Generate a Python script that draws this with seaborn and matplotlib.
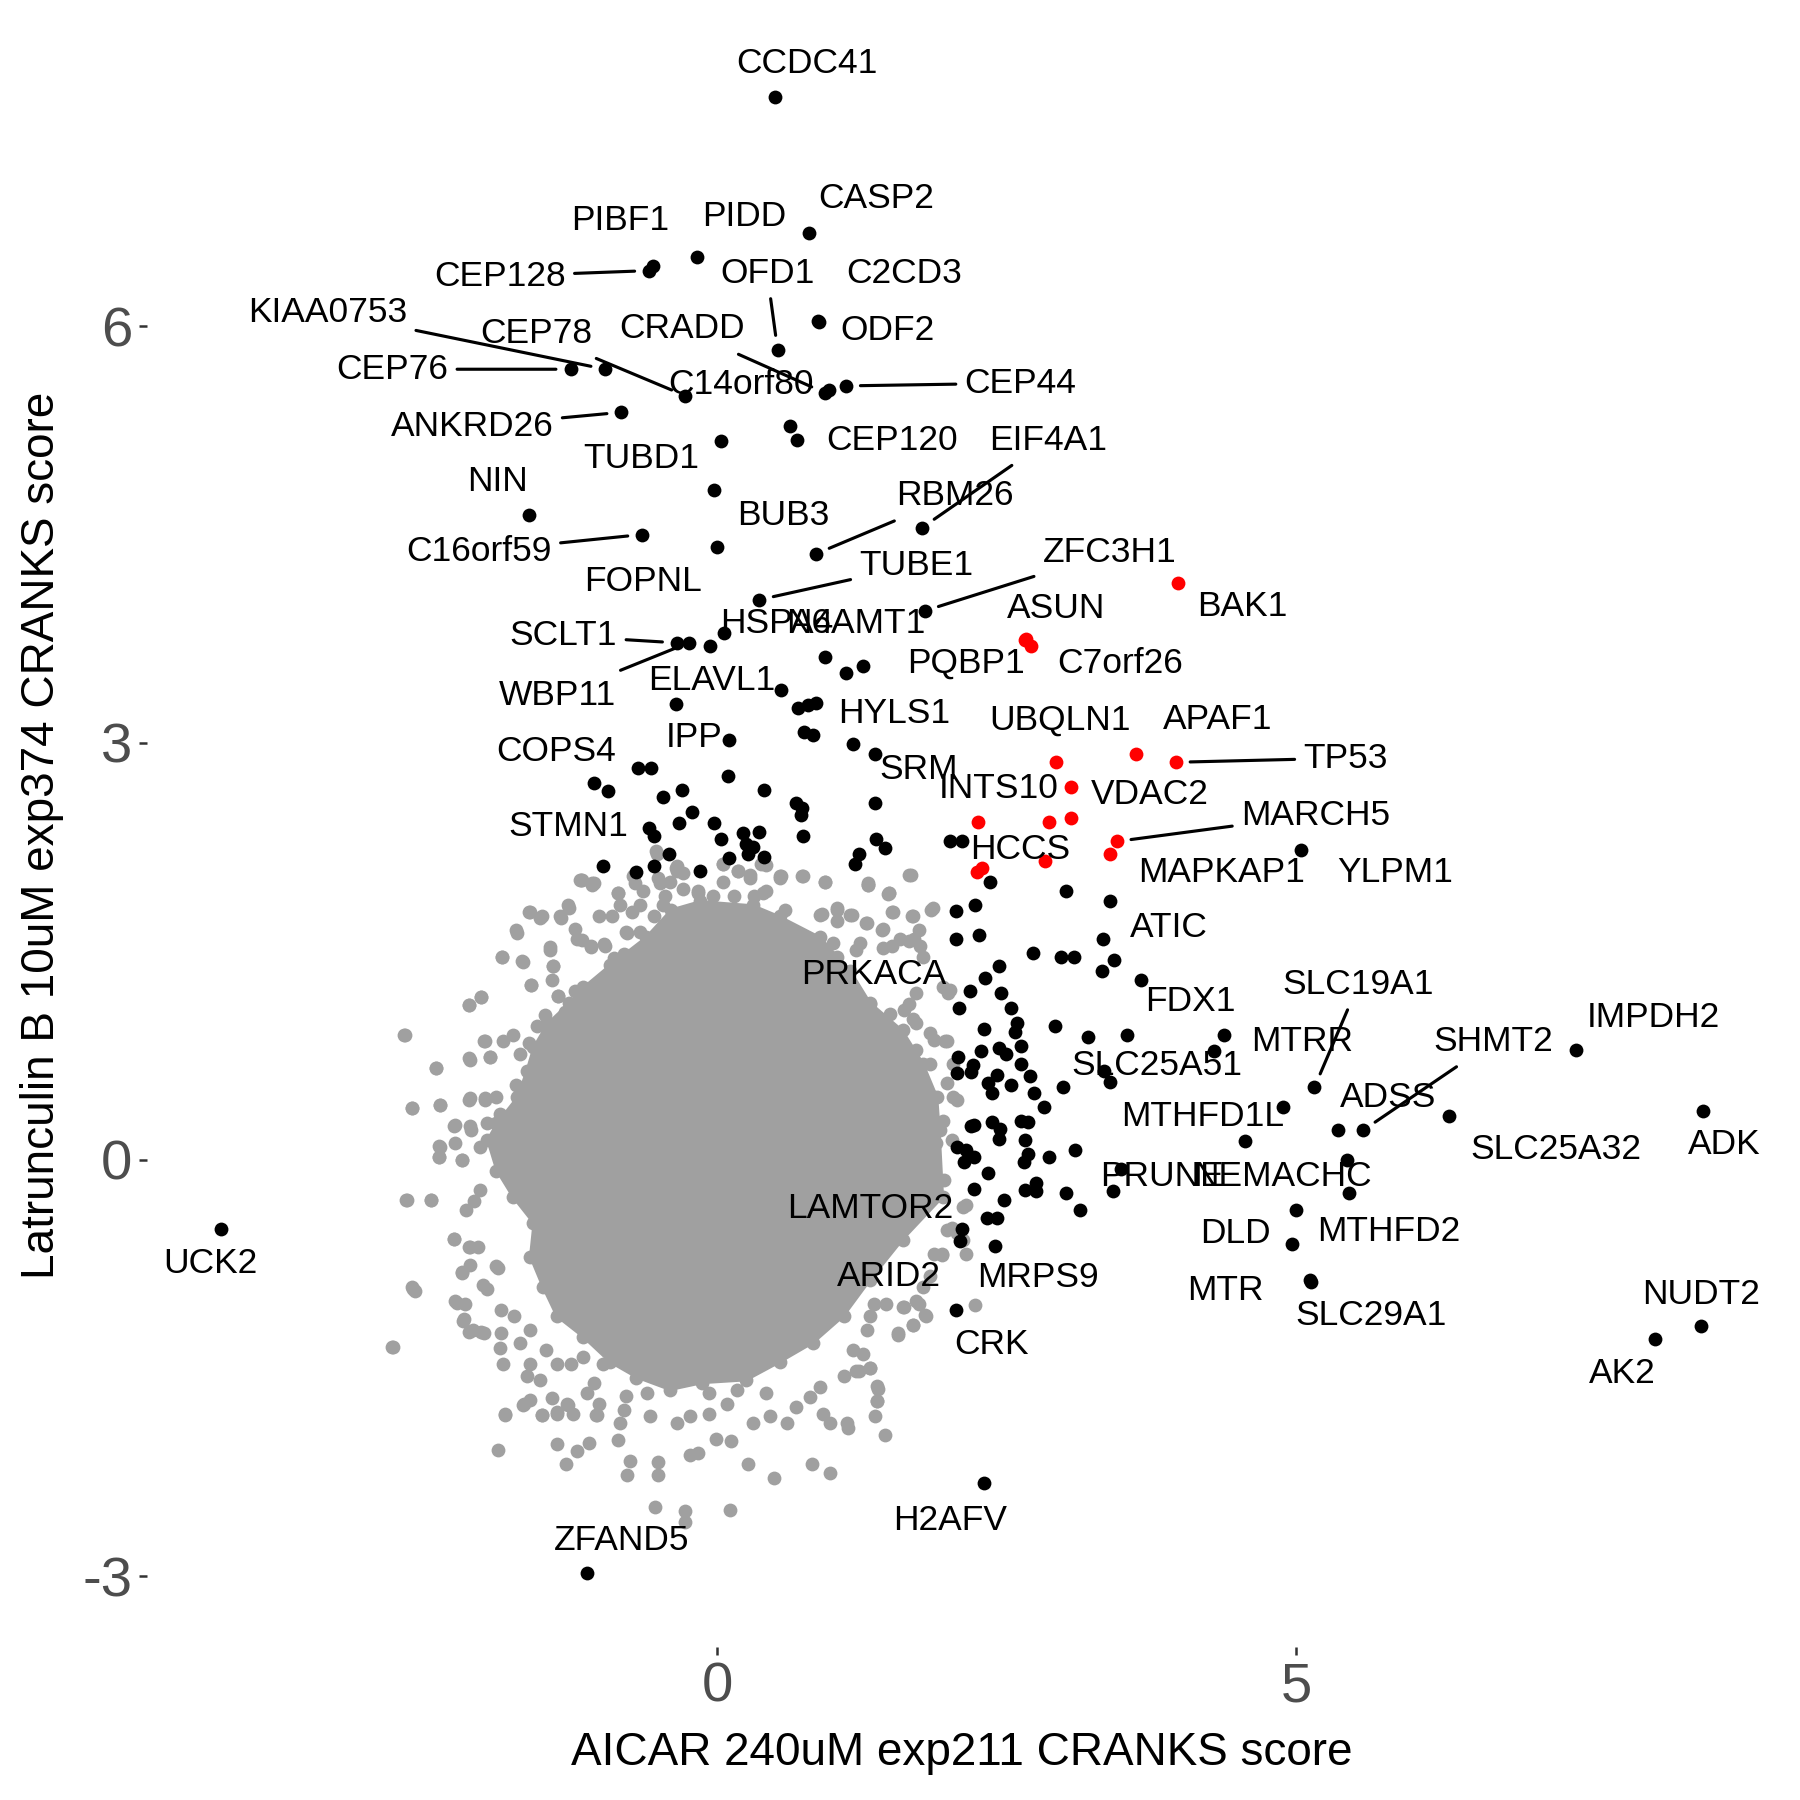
import matplotlib
matplotlib.use('Agg')
import matplotlib.pyplot as plt
import seaborn as sns
import pandas as pd

sns.set_style('white')
plt.rcParams['font.family'] = ['Liberation Sans', 'DejaVu Sans']
plt.rcParams['axes.unicode_minus'] = False
plt.rcParams['text.color'] = 'black'

GRAY = '#A0A0A0'

# outline of the dense grey core of background genes (x, y)
core = [(-0.62, 1.60), (-0.40, 1.80), (-0.15, 1.86), (0.31, 1.83), (0.54, 1.75), (0.89, 1.60),
        (1.15, 1.36), (1.32, 1.13), (1.60, 0.93), (1.78, 0.69), (1.90, 0.45), (1.92, 0.21),
        (1.95, -0.27), (1.60, -0.58), (1.32, -0.87), (1.09, -1.13), (0.83, -1.32), (0.54, -1.46),
        (0.25, -1.59), (-0.13, -1.61), (-0.41, -1.66), (-0.70, -1.57), (-0.93, -1.46),
        (-1.16, -1.28), (-1.39, -1.13), (-1.51, -0.92), (-1.62, -0.70), (-1.59, -0.46),
        (-1.77, -0.27), (-1.91, -0.08), (-1.99, 0.14), (-1.91, 0.26), (-1.73, 0.45),
        (-1.65, 0.64), (-1.59, 0.81), (-1.47, 0.98), (-1.28, 1.13), (-1.16, 1.24), (-0.93, 1.40)]

# background genes scattered away from the core
bg_outer = [(-2.71, 0.90), (-2.43, 0.66), (-2.64, 0.37), (-2.40, 0.39), (-2.15, 0.73), (-2.02, 0.85),
            (-1.97, 0.74), (-2.14, 0.44), (-2.01, 0.44), (-2.28, 0.24), (-2.13, 0.21), (-2.40, 0.09),
            (-2.41, 0.02), (-2.21, 0.00), (-2.68, -0.29), (-2.48, -0.29), (-2.28, -0.57), (-2.14, -0.63),
            (-2.21, -0.81), (-2.64, -0.92), (-2.61, -0.95), (-2.81, -1.35), (-2.25, -1.03), (-2.19, -1.15),
            (-2.15, -1.24), (-2.04, -1.24), (-1.90, -0.78), (-2.03, -0.90), (-1.84, -1.84), (-1.90, -2.09),
            (-1.67, -1.76), (-1.52, -1.84), (-1.39, -2.05), (-1.31, -2.19), (-1.21, -2.10), (-1.11, -2.04),
            (-1.39, -1.82), (-1.29, -1.77), (-1.05, -1.84), (-0.86, -2.02), (-0.78, -2.27), (-0.76, -2.17),
            (-0.54, -2.50), (-0.51, -2.27), (-0.51, -2.18), (-0.28, -2.53), (-0.28, -2.61), (0.11, -2.52),
            (-0.24, -2.13), (-0.17, -2.11), (-0.01, -2.01), (0.12, -2.03), (0.26, -2.19), (0.49, -2.29),
            (0.82, -2.19), (0.97, -2.26), (1.13, -1.93), (1.45, -1.98), (1.38, -1.74), (1.38, -1.63),
            (1.22, -1.52), (1.32, -1.50), (1.56, -1.26), (1.69, -1.19), (1.80, -1.13), (1.72, -1.02),
            (1.60, -1.06), (1.94, -0.68), (2.15, -0.33), (2.15, -0.68), (2.23, -1.05), (2.03, -0.49),
            (1.96, -0.15), (2.03, 0.14), (2.07, 0.43), (1.97, 0.85), (1.84, 0.91), (1.69, 1.01),
            (1.86, 1.81), (1.69, 1.75), (1.51, 1.78), (1.47, 1.91), (1.30, 1.99), (1.67, 2.05),
            (0.93, 2.00), (0.73, 2.04), (0.54, 2.03), (0.39, 1.92), (0.28, 2.03), (0.05, 2.13),
            (-0.17, 1.92), (-0.36, 2.10), (-0.51, 2.03), (-0.71, 1.99), (-0.86, 1.92), (-1.07, 1.99),
            (-1.18, 2.01), (-1.36, 1.75), (-1.29, 1.83), (-1.52, 1.75), (-1.63, 1.78), (-1.74, 1.65),
            (-1.86, 1.46), (-1.69, 1.43), (-1.45, 1.51), (-1.42, 1.39), (-1.61, 1.26), (-1.38, 1.18),
            (-2.04, 1.17), (-2.15, 1.11), (-1.21, 1.59), (-1.09, 1.54), (-0.98, 1.55), (-0.78, 1.63),
            (1.28, 1.70), (1.42, 1.65), (1.51, 1.54), (1.70, 1.59), (1.03, 1.81), (1.15, 1.76),
            (0.89, 1.76), (1.99, 1.20), (1.72, 1.20), (-1.19, 2.01), (-1.08, 1.99), (-0.72, 2.05),
            (-0.52, 2.20), (-0.35, 2.11), (0.18, 2.08), (0.55, 2.04), (1.30, 1.98), (0.38, 2.13),
            (1.48, 1.92)]

# background genes crowding the edge of the core, by quadrant
bg_upper_left = [(-1.17, 2.01), (-1.08, 1.98), (-0.53, 2.22), (-0.86, 1.92), (-0.73, 2.04), (-0.64, 1.93),
                 (-0.50, 1.99), (-1.62, 1.78), (-1.53, 1.74), (-1.35, 1.74), (-1.28, 1.81), (-1.02, 1.75),
                 (-0.91, 1.75), (-0.84, 1.83), (-0.74, 1.78), (-0.67, 1.83), (-0.55, 1.75), (-0.47, 1.83),
                 (-1.23, 1.66), (-1.17, 1.58), (-1.09, 1.53), (-0.97, 1.54), (-0.79, 1.64), (-0.67, 1.64),
                 (-1.73, 1.63), (-1.45, 1.53), (-1.86, 1.46), (-1.68, 1.42), (-1.42, 1.39), (-1.43, 1.29),
                 (-0.89, 1.45), (-0.81, 1.48), (-1.61, 1.26), (-1.38, 1.18), (-1.23, 1.21), (-1.20, 1.14),
                 (-2.04, 1.17), (-2.15, 1.11), (-1.49, 1.04), (-1.32, 1.06), (-1.56, 0.96), (-2.70, 0.90),
                 (-2.01, 0.85), (-1.85, 0.85), (-1.77, 0.90), (-1.71, 0.76), (-1.63, 0.84), (-2.14, 0.72),
                 (-1.97, 0.74), (-2.43, 0.66), (-1.74, 0.54), (-2.15, 0.43), (-2.01, 0.43), (-1.91, 0.45),
                 (-2.64, 0.37), (-2.40, 0.39), (-2.27, 0.25), (-2.14, 0.24), (-1.88, 0.33), (-1.99, 0.26),
                 (-0.41, 2.00), (-0.30, 1.95), (-0.45, 1.90)]
bg_upper_right = [(-0.35, 2.08), (-0.30, 2.06), (0.05, 2.13), (0.18, 2.08), (0.28, 2.05), (0.42, 2.12),
                  (0.05, 2.00), (-0.17, 1.93), (-0.04, 1.90), (0.14, 1.90), (0.32, 1.90), (0.42, 1.93),
                  (0.54, 2.04), (0.74, 2.04), (0.93, 2.00), (0.58, 1.80), (0.90, 1.77), (1.03, 1.80),
                  (1.16, 1.76), (1.03, 1.72), (1.30, 1.98), (1.48, 1.92), (1.66, 2.05), (1.85, 1.80),
                  (1.29, 1.70), (1.43, 1.66), (1.52, 1.78), (1.68, 1.75), (1.74, 1.65), (1.58, 1.59),
                  (1.66, 1.57), (1.00, 1.56), (1.23, 1.56), (1.43, 1.52), (1.75, 1.54), (1.78, 1.46),
                  (1.20, 1.51), (1.03, 1.46), (1.95, 1.24), (2.01, 1.22), (1.66, 1.12), (1.72, 0.98),
                  (1.87, 0.86), (1.98, 0.85), (1.84, 0.69), (1.98, 0.55), (2.04, 0.45), (2.04, 0.69),
                  (1.95, 0.28), (0.89, 1.17), (1.09, 1.12), (1.32, 1.12), (1.49, 1.05), (1.61, 1.08),
                  (1.55, 0.88), (1.72, 0.79), (1.78, 0.55), (1.87, 0.45)]
bg_lower_left = [(-2.41, 0.10), (-2.41, 0.02), (-2.27, 0.12), (-2.21, 0.00), (-2.05, 0.09), (-2.69, -0.29),
                 (-2.48, -0.29), (-2.17, -0.36), (-2.05, -0.22), (-2.10, -0.30), (-2.28, -0.57), (-2.15, -0.63),
                 (-2.07, -0.63), (-1.91, -0.77), (-2.21, -0.82), (-2.14, -0.76), (-2.63, -0.93), (-1.99, -0.93),
                 (-2.27, -1.02), (-2.18, -1.04), (-2.20, -1.16), (-2.11, -1.23), (-2.02, -1.25), (-1.87, -1.08),
                 (-1.87, -1.25), (-1.88, -1.36), (-2.80, -1.35), (-1.76, -1.13), (-1.71, -1.32), (-1.62, -1.23),
                 (-1.85, -1.47), (-1.62, -1.47), (-1.65, -1.56), (-1.53, -1.59), (-1.48, -1.37), (-1.39, -1.47),
                 (-1.84, -1.83), (-1.68, -1.77), (-1.62, -1.73), (-1.52, -1.84), (-1.43, -1.72), (-1.30, -1.76),
                 (-1.25, -1.83), (-1.39, -1.83), (-1.13, -1.68), (-1.07, -1.61), (-1.02, -1.76), (-1.04, -1.84),
                 (-0.81, -1.80), (-0.79, -1.70), (-0.84, -1.90), (-0.61, -1.68), (-0.58, -1.85), (-1.27, -1.47),
                 (-1.16, -1.42), (-0.99, -1.47)]
bg_lower_right = [(1.89, 0.12), (1.84, -0.02), (2.12, -0.34), (1.98, -0.51), (2.12, -0.58), (2.07, -0.53),
                  (1.87, -0.68), (1.94, -0.69), (1.84, -0.84), (1.78, -0.92), (1.46, -1.04), (1.61, -1.06),
                  (1.74, -1.04), (1.79, -1.12), (1.69, -1.19), (1.56, -1.25), (1.32, -1.13), (1.29, -1.23),
                  (1.35, -1.04), (1.17, -1.37), (1.26, -1.40), (1.32, -1.50), (1.20, -1.52), (1.09, -1.56),
                  (1.39, -1.65), (1.38, -1.74), (1.36, -1.85), (0.89, -1.64), (0.80, -1.71), (0.91, -1.83),
                  (0.97, -1.90), (0.68, -1.78), (0.60, -1.90), (0.45, -1.85), (0.31, -1.90), (0.08, -1.76),
                  (-0.07, -1.83), (-0.24, -1.85), (-0.35, -1.90), (1.12, -1.90), (-0.07, -1.68), (0.17, -1.66),
                  (0.42, -1.68)]

# hits without a label
hits_plain = [(0.63, 5.28), (-0.06, 3.70), (1.11, 3.50), (1.26, 3.55), (0.55, 3.38), (0.70, 3.25),
              (0.78, 3.27), (0.75, 3.08), (0.83, 3.06), (1.17, 2.99), (-0.69, 2.82), (-0.57, 2.82),
              (-0.95, 2.65), (0.09, 2.76), (-0.47, 2.61), (-0.31, 2.66), (0.40, 2.66), (0.68, 2.57),
              (0.73, 2.53), (0.72, 2.48), (1.36, 2.57), (-0.22, 2.50), (-0.33, 2.42), (-0.59, 2.39),
              (-0.55, 2.33), (-0.03, 2.42), (0.22, 2.35), (0.36, 2.36), (0.03, 2.31), (0.74, 2.33),
              (0.25, 2.27), (0.31, 2.25), (1.37, 2.31), (1.45, 2.24), (1.22, 2.20), (1.19, 2.13),
              (2.01, 2.29), (2.11, 2.29), (-0.42, 2.20), (0.10, 2.17), (0.26, 2.20), (0.40, 2.18),
              (-0.70, 2.07), (-0.55, 2.11), (-0.15, 2.08), (2.36, 2.00), (3.01, 1.93), (2.06, 1.79),
              (2.23, 1.83), (2.26, 1.62), (2.73, 1.49), (2.97, 1.46), (3.08, 1.46), (3.33, 1.59),
              (3.43, 1.44), (3.32, 1.36), (2.43, 1.39), (2.31, 1.31), (2.18, 1.21), (2.45, 1.20),
              (2.09, 1.09), (2.54, 1.09), (2.59, 0.98), (2.57, 0.92), (2.30, 0.94), (2.92, 0.96),
              (3.20, 0.88), (3.54, 0.90), (4.29, 0.78), (2.08, 0.74), (2.07, 0.62), (2.28, 0.78),
              (2.43, 0.80), (2.49, 0.76), (2.62, 0.82), (2.62, 0.69), (2.21, 0.68), (2.19, 0.63),
              (2.42, 0.61), (2.34, 0.55), (2.37, 0.48), (2.54, 0.54), (2.70, 0.60), (2.74, 0.48),
              (2.99, 0.52), (2.82, 0.38), (3.39, 0.56), (2.19, 0.24), (2.22, 0.25), (2.37, 0.27),
              (2.44, 0.22), (2.43, 0.15), (2.62, 0.28), (2.68, 0.27), (2.66, 0.14), (2.07, 0.09),
              (2.15, 0.07), (2.13, -0.02), (2.22, 0.02), (2.68, 0.04), (2.65, -0.02), (2.87, 0.02),
              (3.09, 0.07), (2.34, -0.10), (2.22, -0.21), (2.66, -0.22), (2.75, -0.17), (2.75, -0.23),
              (3.01, -0.24), (3.13, -0.36), (3.42, -0.23), (4.56, 0.13), (2.48, -0.29), (2.33, -0.42),
              (2.42, -0.42), (5.46, -0.24)]

# labelled hits (gene, x, y)
hits_named = [('CCDC41', 0.50, 7.65), ('CASP2', 0.79, 6.67), ('PIDD', -0.18, 6.50), ('PIBF1', -0.56, 6.43),
              ('CEP128', -0.59, 6.40), ('OFD1', 0.52, 5.83), ('C2CD3', 0.87, 6.04), ('ODF2', 0.88, 6.03),
              ('CRADD', 0.93, 5.52), ('C14orf80', 0.96, 5.54), ('CEP44', 1.11, 5.57),
              ('KIAA0753', -0.97, 5.69), ('CEP76', -1.27, 5.69), ('CEP78', -0.28, 5.50),
              ('ANKRD26', -0.83, 5.38), ('TUBD1', 0.03, 5.17), ('CEP120', 0.69, 5.18),
              ('EIF4A1', 1.77, 4.55), ('RBM26', 0.85, 4.36), ('NIN', -1.63, 4.64), ('C16orf59', -0.65, 4.50),
              ('BUB3', -0.03, 4.82), ('FOPNL', 0.00, 4.41), ('TUBE1', 0.36, 4.03), ('ZFC3H1', 1.79, 3.95),
              ('SCLT1', -0.35, 3.72), ('WBP11', -0.25, 3.72), ('HSPA4', 0.06, 3.79), ('N6AMT1', 0.93, 3.62),
              ('ELAVL1', -0.36, 3.28), ('HYLS1', 0.85, 3.29), ('IPP', 0.10, 3.02), ('COPS4', -1.07, 2.71),
              ('SRM', 1.36, 2.92), ('STMN1', -0.99, 2.11), ('PRKACA', 2.06, 1.59), ('LAMTOR2', 2.11, -0.50),
              ('ARID2', 2.10, -0.59), ('MRPS9', 2.40, -0.62), ('CRK', 2.06, -1.08), ('H2AFV', 2.30, -2.33),
              ('ZFAND5', -1.13, -2.98), ('UCK2', -4.29, -0.50), ('YLPM1', 5.04, 2.23), ('ATIC', 3.39, 1.86),
              ('FDX1', 3.66, 1.29), ('SLC25A51', 3.34, 0.64), ('MTRR', 4.38, 0.90), ('SLC19A1', 5.16, 0.52),
              ('IMPDH2', 7.42, 0.79), ('SHMT2', 5.58, 0.21), ('ADSS', 5.36, 0.21), ('MTHFD1L', 4.89, 0.38),
              ('SLC25A32', 6.32, 0.31), ('ADK', 8.52, 0.35), ('PRUNE', 3.49, -0.07), ('NEMACHC', 5.44, 0.00),
              ('MTHFD2', 5.00, -0.36), ('DLD', 4.97, -0.61), ('MTR', 5.12, -0.87), ('SLC29A1', 5.13, -0.88),
              ('NUDT2', 8.50, -1.20), ('AK2', 8.10, -1.29)]

# apoptosis / p53 pathway genes (red)
red_named = [('BAK1', 3.98, 4.15), ('ASUN', 2.66, 3.74), ('PQBP1', 2.67, 3.75), ('C7orf26', 2.71, 3.70),
             ('UBQLN1', 2.93, 2.86), ('APAF1', 3.62, 2.92), ('TP53', 3.96, 2.86), ('INTS10', 3.06, 2.68),
             ('VDAC2', 3.06, 2.46), ('MARCH5', 3.45, 2.29), ('MAPKAP1', 3.39, 2.20), ('HCCS', 2.83, 2.15)]
red_plain = [(2.25, 2.43), (2.87, 2.43), (2.24, 2.07), (2.29, 2.10)]

# where each label sits, and which ones get a connector segment
label_pos = {
    'CCDC41': (0.77, 7.89), 'CASP2': (1.37, 6.92), 'PIDD': (0.23, 6.79), 'PIBF1': (-0.84, 6.76),
    'CEP128': (-1.88, 6.36), 'OFD1': (0.43, 6.38), 'C2CD3': (1.61, 6.38), 'ODF2': (1.47, 5.97),
    'CRADD': (-0.31, 5.98), 'C14orf80': (0.20, 5.58), 'CEP44': (2.62, 5.59),
    'KIAA0753': (-3.37, 6.10), 'CEP76': (-2.81, 5.69), 'CEP78': (-1.57, 5.95),
    'ANKRD26': (-2.12, 5.28), 'TUBD1': (-0.66, 5.05), 'CEP120': (1.51, 5.18),
    'EIF4A1': (2.86, 5.18), 'RBM26': (2.05, 4.78), 'NIN': (-1.90, 4.88),
    'C16orf59': (-2.06, 4.38), 'BUB3': (0.57, 4.64), 'FOPNL': (-0.64, 4.16),
    'TUBE1': (1.72, 4.28), 'ZFC3H1': (3.39, 4.37), 'SCLT1': (-1.33, 3.77),
    'WBP11': (-1.38, 3.34), 'HSPA4': (0.51, 3.86), 'N6AMT1': (1.20, 3.86),
    'ELAVL1': (-0.05, 3.45), 'HYLS1': (1.53, 3.21), 'IPP': (-0.20, 3.04),
    'COPS4': (-1.39, 2.94), 'SRM': (1.74, 2.81), 'STMN1': (-1.29, 2.40),
    'PRKACA': (1.35, 1.33), 'LAMTOR2': (1.32, -0.35), 'ARID2': (1.48, -0.84),
    'MRPS9': (2.77, -0.85), 'CRK': (2.37, -1.33), 'H2AFV': (2.01, -2.60),
    'ZFAND5': (-0.83, -2.74), 'UCK2': (-4.38, -0.75), 'YLPM1': (5.86, 2.07),
    'ATIC': (3.90, 1.67), 'FDX1': (4.09, 1.14), 'SLC25A51': (3.80, 0.68),
    'MTRR': (5.05, 0.85), 'SLC19A1': (5.54, 1.26), 'IMPDH2': (8.09, 1.02),
    'SHMT2': (6.71, 0.85), 'ADSS': (5.80, 0.45), 'MTHFD1L': (4.19, 0.31),
    'SLC25A32': (7.25, 0.07), 'ADK': (8.70, 0.11), 'PRUNE': (3.84, -0.12),
    'NEMACHC': (4.88, -0.12), 'MTHFD2': (5.80, -0.52), 'DLD': (4.48, -0.53),
    'MTR': (4.39, -0.94), 'SLC29A1': (5.65, -1.12), 'NUDT2': (8.50, -0.97),
    'AK2': (7.82, -1.54), 'BAK1': (4.54, 3.98), 'ASUN': (2.93, 3.97),
    'PQBP1': (2.15, 3.57), 'C7orf26': (3.48, 3.57), 'UBQLN1': (2.96, 3.16),
    'APAF1': (4.32, 3.17), 'TP53': (5.43, 2.89), 'INTS10': (2.43, 2.67),
    'VDAC2': (3.74, 2.63), 'MARCH5': (5.17, 2.48), 'MAPKAP1': (4.36, 2.07),
    'HCCS': (2.62, 2.23),
}
with_segment = {'CEP128', 'OFD1', 'CRADD', 'CEP44', 'KIAA0753', 'CEP76', 'CEP78', 'ANKRD26',
                'EIF4A1', 'RBM26', 'C16orf59', 'TUBE1', 'ZFC3H1', 'SCLT1', 'WBP11',
                'SLC19A1', 'SHMT2', 'TP53', 'MARCH5'}

bg = pd.DataFrame(bg_outer + bg_upper_left + bg_upper_right + bg_lower_left + bg_lower_right + core,
                  columns=['x', 'y'])
hits = pd.DataFrame(hits_plain + [(x, y) for _, x, y in hits_named], columns=['x', 'y'])
reds = pd.DataFrame(red_plain + [(x, y) for _, x, y in red_named], columns=['x', 'y'])
core_df = pd.DataFrame(core, columns=['x', 'y'])
points = {g: (x, y) for g, x, y in hits_named + red_named}

fig, ax = plt.subplots(figsize=(6, 6), dpi=300)
fig.subplots_adjust(left=0.0817, right=0.9867, bottom=0.085, top=0.987)

ax.fill(core_df.x, core_df.y, facecolor=GRAY, edgecolor=GRAY, lw=0.5, zorder=1)
sns.scatterplot(data=bg, x='x', y='y', color=GRAY, s=11, linewidth=0, ax=ax, zorder=2)
sns.scatterplot(data=hits, x='x', y='y', color='black', s=11, linewidth=0, ax=ax, zorder=3)
sns.scatterplot(data=reds, x='x', y='y', color='#FF0000', s=11, linewidth=0, ax=ax, zorder=4)

for g, (lx, ly) in label_pos.items():
    px, py = points[g]
    if g in with_segment:
        ax.annotate(g, xy=(px, py), xytext=(lx, ly), ha='center', va='center', fontsize=8.5,
                    color='black', zorder=5,
                    arrowprops=dict(arrowstyle='-', color='black', lw=0.75, shrinkA=0, shrinkB=3.5))
    else:
        ax.text(lx, ly, g, ha='center', va='center', fontsize=8.5, color='black', zorder=5)

ax.set_xlim(-4.93, 9.15)
ax.set_ylim(-3.51, 8.18)
ax.set_xticks([0, 5])
ax.set_yticks([-3, 0, 3, 6])
ax.tick_params(left=True, bottom=True, length=2, width=0.6, color='#333333', labelsize=13.5,
               labelcolor='#4D4D4D', pad=1.5)
for s in ax.spines.values():
    s.set_visible(False)

ax.set_xlabel('AICAR 240uM exp211 CRANKS score', fontsize=11, color='black')
ax.set_ylabel('Latrunculin B 10uM exp374 CRANKS score', fontsize=11, color='black')
ax.xaxis.set_label_coords(0.5, -0.0653)
ax.xaxis.label.set_va('center')
ax.yaxis.set_label_coords(-0.0645, 0.5)
ax.yaxis.label.set_va('center')

fig.savefig('out.png', dpi=300)
